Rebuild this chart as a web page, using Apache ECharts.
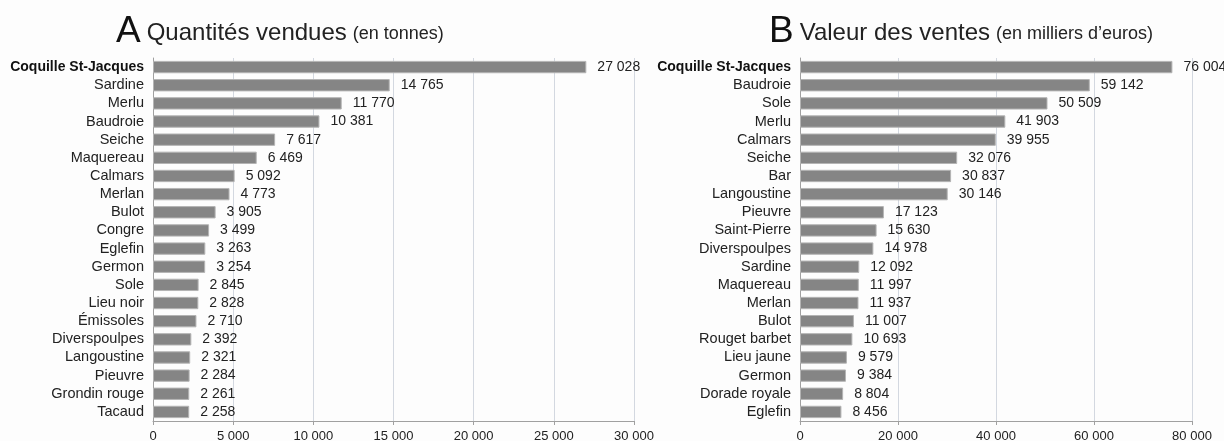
<!DOCTYPE html>
<html>
<head>
<meta charset="utf-8">
<script src="https://cdn.jsdelivr.net/npm/echarts@6/dist/echarts.min.js"></script>
<style>
  html, body { margin: 0; padding: 0; background: #fdfdfd; }
  #chart { width: 1224px; height: 441px; }
</style>
</head>
<body>
<div id="chart"></div>
<script>
const qtyCategories = ['Coquille St-Jacques', 'Sardine', 'Merlu', 'Baudroie', 'Seiche', 'Maquereau', 'Calmars', 'Merlan', 'Bulot', 'Congre', 'Eglefin', 'Germon', 'Sole', 'Lieu noir', 'Émissoles', 'Diverspoulpes', 'Langoustine', 'Pieuvre', 'Grondin rouge', 'Tacaud']
const qtyValues = [27028, 14765, 11770, 10381, 7617, 6469, 5092, 4773, 3905, 3499, 3263, 3254, 2845, 2828, 2710, 2392, 2321, 2284, 2261, 2258]

const valCategories = ['Coquille St-Jacques', 'Baudroie', 'Sole', 'Merlu', 'Calmars', 'Seiche', 'Bar', 'Langoustine', 'Pieuvre', 'Saint-Pierre', 'Diverspoulpes', 'Sardine', 'Maquereau', 'Merlan', 'Bulot', 'Rouget barbet', 'Lieu jaune', 'Germon', 'Dorade royale', 'Eglefin']
const valValues = [76004, 59142, 50509, 41903, 39955, 32076, 30837, 30146, 17123, 15630, 14978, 12092, 11997, 11937, 11007, 10693, 9579, 9384, 8804, 8456]

const fmt = v => String(v).replace(/\B(?=(\d{3})+(?!\d))/g, ' ')
const font = 'Liberation Sans, Arial, sans-serif'
const gridColor = '#d3d8e0'
const barColor = '#858585'

const catAxis = (idx, cats) => ({
  type: 'category',
  gridIndex: idx,
  data: cats,
  inverse: true,
  axisLine: { lineStyle: { color: '#a0a0a0' } },
  axisTick: { length: 4, lineStyle: { color: '#a0a0a0' } },
  axisLabel: {
    interval: 0,
    margin: 9,
    fontFamily: font,
    fontSize: 14.5,
    color: '#222',
    formatter: v => v === 'Coquille St-Jacques' ? '{b|' + v + '}' : v,
    rich: { b: { fontWeight: 'bold', fontSize: 14, color: '#111', fontFamily: font } }
  }
})

const valAxis = (idx, max, interval) => ({
  type: 'value',
  gridIndex: idx,
  min: 0,
  max: max,
  interval: interval,
  axisLine: { show: true, lineStyle: { color: '#a0a0a0' } },
  axisTick: { show: true, length: 4, lineStyle: { color: '#a0a0a0' } },
  splitLine: { lineStyle: { color: gridColor } },
  axisLabel: { margin: 9, fontFamily: font, fontSize: 13, color: '#222', formatter: fmt }
})

const barSeries = (idx, values) => ({
  type: 'bar',
  xAxisIndex: idx,
  yAxisIndex: idx,
  data: values,
  barCategoryGap: '32%',
  itemStyle: { color: barColor, borderColor: '#b4b4b4', borderWidth: 1 },
  label: {
    show: true,
    position: 'right',
    distance: 11,
    fontFamily: font,
    fontSize: 14,
    color: '#222',
    formatter: p => fmt(p.value)
  },
  silent: true
})

const titleRich = {
  big: { fontSize: 37, color: '#111', fontFamily: font, fontWeight: 'normal', padding: [0, 6, 0, 0] },
  mid: { fontSize: 24, color: '#222', fontFamily: font, fontWeight: 'normal', padding: [4, 6, 0, 0] },
  sm: { fontSize: 18, color: '#222', fontFamily: font, fontWeight: 'normal', padding: [6, 0, 0, 0] }
}

const chart = echarts.init(document.getElementById('chart'))
chart.setOption({
  backgroundColor: '#fdfdfd',
  animation: false,
  title: [
    {
      text: '{big|A}{mid|Quantités vendues}{sm|(en tonnes)}',
      left: 111, top: 8,
      textStyle: { fontWeight: 'normal', rich: titleRich }
    },
    {
      text: '{big|B}{mid|Valeur des ventes}{sm|(en milliers d\u2019euros)}',
      left: 764, top: 8,
      textStyle: { fontWeight: 'normal', rich: titleRich }
    }
  ],
  grid: [
    { left: 153, top: 58, width: 481, bottom: 20, outerBoundsMode: 'none' },
    { left: 800, top: 58, width: 392, bottom: 20, outerBoundsMode: 'none' }
  ],
  xAxis: [valAxis(0, 30000, 5000), valAxis(1, 80000, 20000)],
  yAxis: [catAxis(0, qtyCategories), catAxis(1, valCategories)],
  series: [barSeries(0, qtyValues), barSeries(1, valValues)]
})
window.addEventListener('resize', () => chart.resize())
</script>
</body>
</html>
